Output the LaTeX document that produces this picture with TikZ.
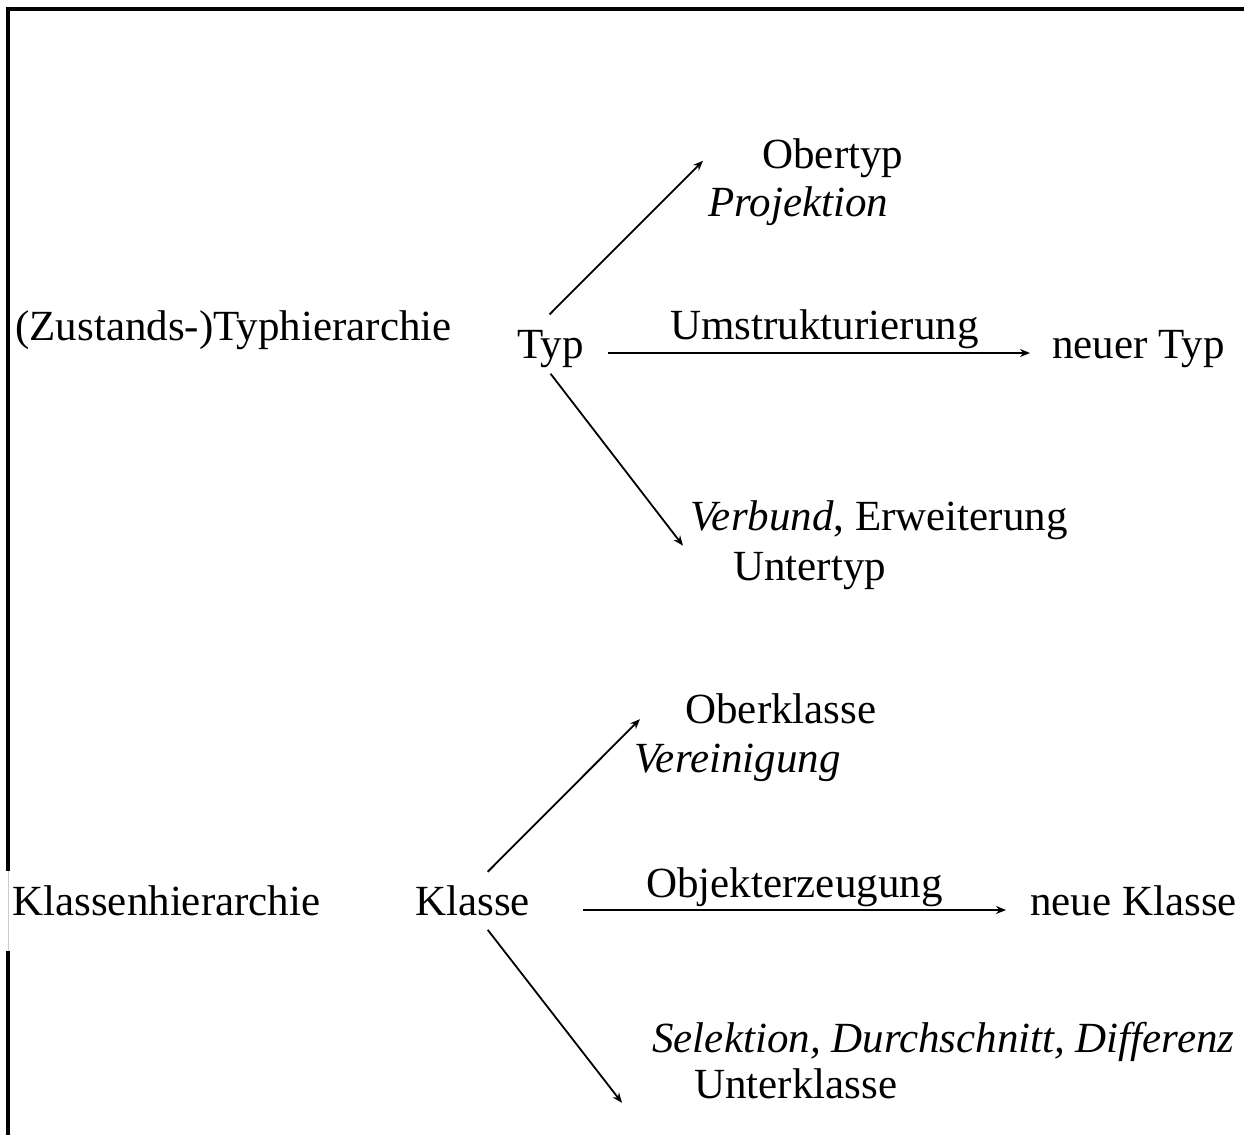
\documentclass[tikz,border=0pt]{standalone}
\usepackage{fontspec}
\setmainfont{Liberation Serif}
\usetikzlibrary{arrows.meta}
\tikzset{
  lbl/.style={anchor=base west,inner sep=0pt,font=\fontsize{21.5}{26}\selectfont},
  pfeil/.style={-{Stealth[length=5pt,width=4pt]},line width=0.9pt},
}
\begin{document}
\begin{tikzpicture}[x=0.5pt,y=-0.5pt]
\useasboundingbox (0,0) rectangle (1244,1135);
% Rahmen
\draw[line width=1.8pt] (1244,9) -- (8,9) -- (8,871);
\draw[gray!40,line width=0.4pt] (8,871) -- (8,951);
\draw[line width=1.8pt] (8,951) -- (8,1135);

% Typhierarchie
\node[lbl] (typhier) at (15,340) {(Zustands-)Typhierarchie};
\node[lbl] (typ) at (517,358) {Typ};
\node[lbl] (obertyp) at (762,168) {Obertyp};
\node[lbl] (projektion) at (708,216) {\itshape Projektion};
\node[lbl] (umstr) at (670,339) {Umstrukturierung};
\node[lbl] (neuertyp) at (1052,358) {neuer Typ};
\node[lbl] (verbund) at (690,530) {\textit{Verbund}, Erweiterung};
\node[lbl] (untertyp) at (733,580) {Untertyp};

\draw[pfeil] ([shift={(-1,-15)}]typ.north) -- ([shift={(-5,-25)}]projektion.north west);
\draw[pfeil] ([shift={(24,-5)}]typ.base east) -- ([shift={(-22,-5)}]neuertyp.base west);
\draw[pfeil] ([shift={(0,6)}]typ.south) -- ([shift={(-7,6)}]verbund.south west);

% Klassenhierarchie
\node[lbl] (klassenhier) at (12,915) {Klassenhierarchie};
\node[lbl] (klasse) at (415,915) {Klasse};
\node[lbl] (oberklasse) at (685,723) {Oberklasse};
\node[lbl] (vereinigung) at (634,772) {\itshape Vereinigung};
\node[lbl] (objekt) at (646,897) {Objekterzeugung};
\node[lbl] (neueklasse) at (1030,915) {neue Klasse};
\node[lbl] (selektion) at (652,1052) {\itshape Selektion, Durchschnitt, Differenz};
\node[lbl] (unterklasse) at (694,1098) {Unterklasse};

\draw[pfeil] ([shift={(15,-13)}]klasse.north) -- ([shift={(6,-24)}]vereinigung.north west);
\draw[pfeil] ([shift={(53,-5)}]klasse.base east) -- ([shift={(-24,-5)}]neueklasse.base west);
\draw[pfeil] ([shift={(15,14)}]klasse.south) -- ([shift={(-72,4)}]unterklasse.south west);
\end{tikzpicture}
\end{document}
